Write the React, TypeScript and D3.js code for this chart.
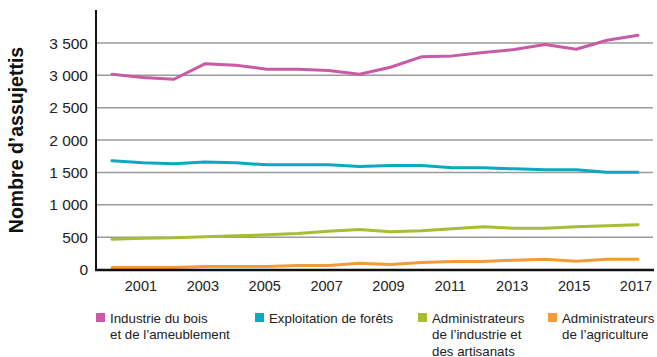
import React, { useEffect, useRef } from "react";
import * as d3 from "d3";

const years = [2000, 2001, 2002, 2003, 2004, 2005, 2006, 2007, 2008, 2009, 2010, 2011, 2012, 2013, 2014, 2015, 2016, 2017];

const boisAmeublement = [3018, 2966, 2940, 3178, 3157, 3095, 3095, 3075, 3018, 3126, 3286, 3301, 3353, 3399, 3476, 3404, 3543, 3620];
const exploitationForets = [1679, 1648, 1633, 1663, 1648, 1617, 1617, 1617, 1591, 1607, 1607, 1571, 1571, 1555, 1540, 1540, 1504, 1504];
const adminIndustrie = [469, 484, 489, 505, 520, 536, 556, 592, 618, 582, 597, 628, 659, 639, 639, 659, 675, 690];
const adminAgriculture = [31, 31, 31, 46, 46, 46, 62, 62, 98, 77, 108, 124, 124, 144, 160, 129, 160, 160];

const yTicks = [0, 500, 1000, 1500, 2000, 2500, 3000, 3500];
const xTicks = [2001, 2003, 2005, 2007, 2009, 2011, 2013, 2015, 2017];

const series = [
    { name: ["Industrie du bois", "et de l\u2019ameublement"], color: "#c95aa5", values: boisAmeublement },
    { name: ["Exploitation de forêts"], color: "#0aa9c0", values: exploitationForets },
    { name: ["Administrateurs", "de l\u2019industrie et", "des artisanats"], color: "#a9bc34", values: adminIndustrie },
    { name: ["Administrateurs", "de l\u2019agriculture"], color: "#f59a3a", values: adminAgriculture },
];

const legendX = [96, 255, 418, 548];

export default function App() {
    const svgRef = useRef<SVGSVGElement | null>(null);

    useEffect(() => {
        if (!svgRef.current) return;
        const svg = d3.select(svgRef.current);
        svg.selectAll("*").remove();

        const font = "'Liberation Sans', Arial, sans-serif";
        const left = 96;
        const right = 653;

        const x = d3.scaleLinear().domain([2000, 2017]).range([112, 638]);
        const y = d3.scaleLinear().domain([0, 3500]).range([269.5, 43]);

        // gridlines
        svg.append("g")
            .selectAll("line")
            .data(yTicks.filter((d) => d > 0))
            .enter()
            .append("line")
            .attr("x1", left)
            .attr("x2", right)
            .attr("y1", (d) => y(d))
            .attr("y2", (d) => y(d))
            .attr("stroke", "#9a9a9a")
            .attr("stroke-width", 1.5);

        // y tick labels
        svg.append("g")
            .selectAll("text")
            .data(yTicks)
            .enter()
            .append("text")
            .attr("x", 88)
            .attr("y", (d) => y(d) + 5.5)
            .attr("text-anchor", "end")
            .attr("font-family", font)
            .attr("font-size", 15.5)
            .attr("fill", "#222")
            .text((d) => (d >= 1000 ? `${Math.floor(d / 1000)} ${String(d % 1000).padStart(3, "0")}` : String(d)));

        // x tick labels
        svg.append("g")
            .selectAll("text")
            .data(xTicks)
            .enter()
            .append("text")
            .attr("x", (d) => x(d) - 2)
            .attr("y", 291)
            .attr("text-anchor", "middle")
            .attr("font-family", font)
            .attr("font-size", 14.5)
            .attr("fill", "#222")
            .text((d) => String(d));

        // lines
        const lineGen = d3
            .line<number>()
            .x((_, i) => x(years[i]))
            .y((d) => y(d));

        series.forEach((s) => {
            svg.append("path")
                .datum(s.values)
                .attr("fill", "none")
                .attr("stroke", s.color)
                .attr("stroke-width", 3)
                .attr("stroke-linejoin", "round")
                .attr("stroke-linecap", "round")
                .attr("d", lineGen);
        });

        // axes
        svg.append("line")
            .attr("x1", left)
            .attr("x2", left)
            .attr("y1", 10)
            .attr("y2", 271)
            .attr("stroke", "#111")
            .attr("stroke-width", 2);
        svg.append("line")
            .attr("x1", left - 1)
            .attr("x2", 654)
            .attr("y1", 270)
            .attr("y2", 270)
            .attr("stroke", "#111")
            .attr("stroke-width", 2.5);

        // axis title
        svg.append("text")
            .attr("transform", "translate(23,140) rotate(-90)")
            .attr("text-anchor", "middle")
            .attr("font-family", font)
            .attr("font-weight", "bold")
            .attr("font-size", 19.5)
            .attr("fill", "#111")
            .text("Nombre d\u2019assujettis");

        // legend
        series.forEach((s, i) => {
            const g = svg.append("g").attr("transform", `translate(${legendX[i]},0)`);
            g.append("rect")
                .attr("x", 0)
                .attr("y", 313)
                .attr("width", 9)
                .attr("height", 9)
                .attr("fill", s.color);
            s.name.forEach((line, j) => {
                g.append("text")
                    .attr("x", 14)
                    .attr("y", 322.5 + j * 16.5)
                    .attr("font-family", font)
                    .attr("font-size", 13.3)
                    .attr("fill", "#222")
                    .text(line);
            });
        });
    }, []);

    return <svg ref={svgRef} width={657} height={357} style={{ position: "absolute", left: 0, top: 0 }} />;
}
